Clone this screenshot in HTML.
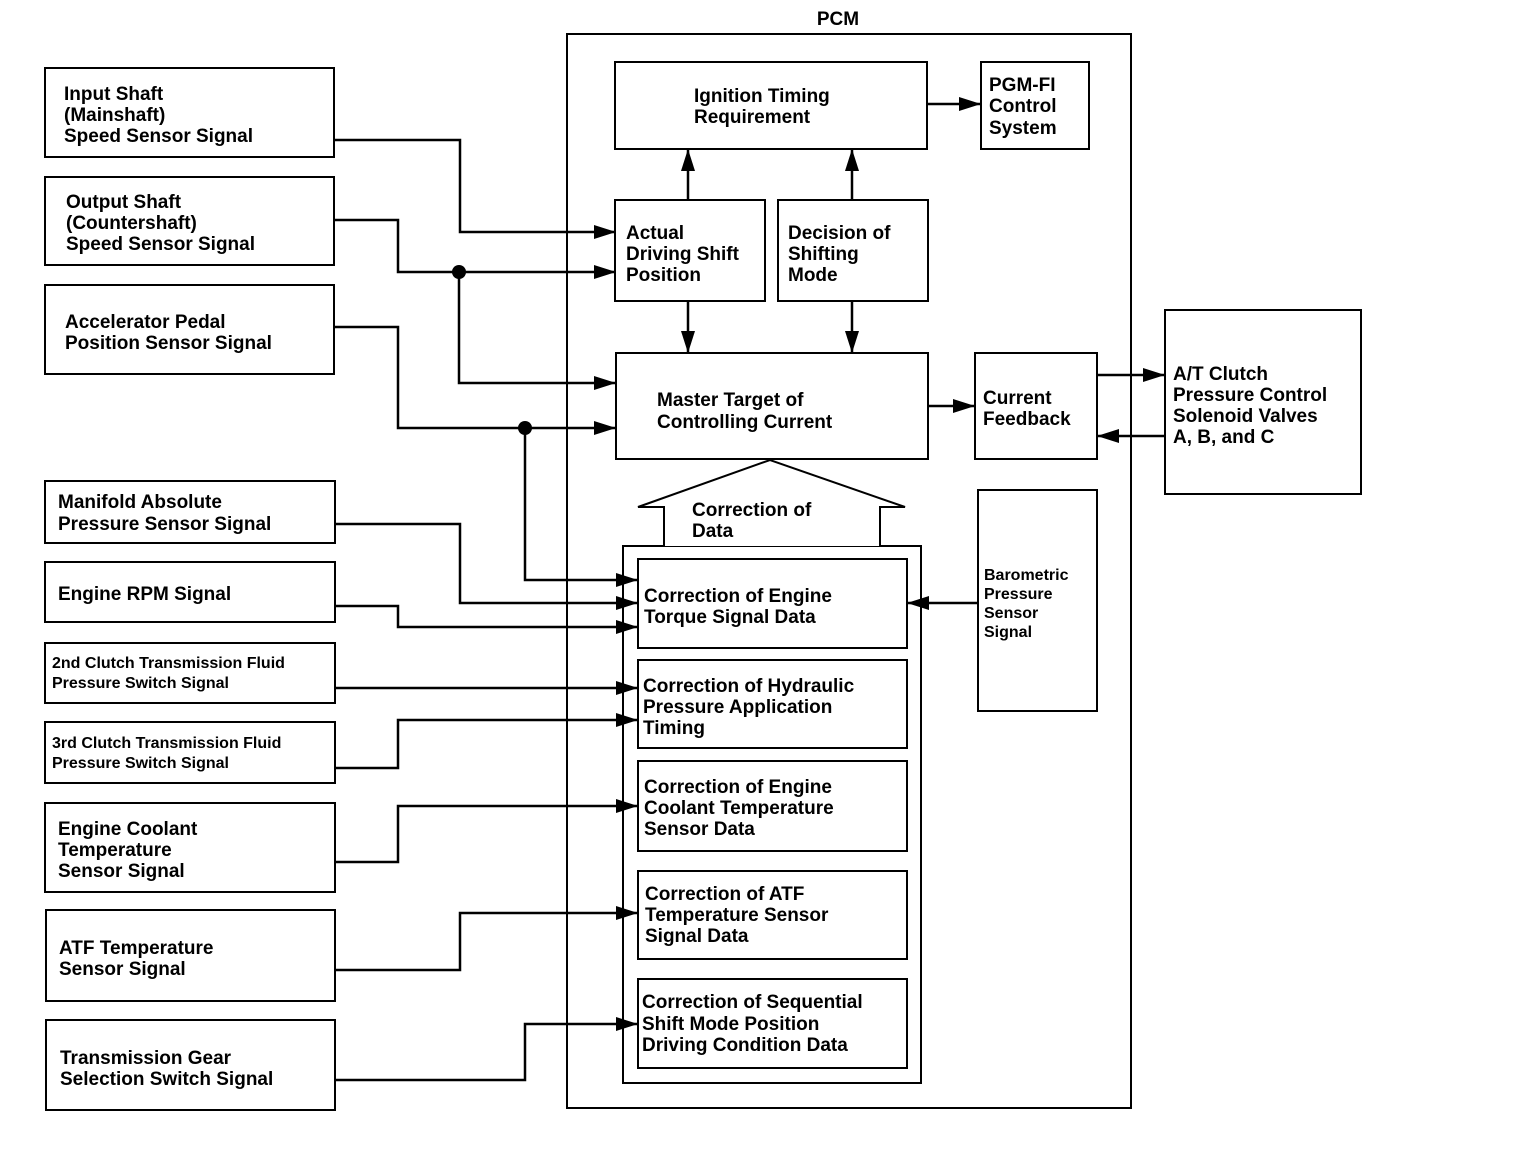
<!DOCTYPE html>
<html><head><meta charset="utf-8"><style>
html,body{margin:0;padding:0;background:#fff;}
svg{display:block;}
text{font-family:"Liberation Sans",Arial,sans-serif;font-weight:bold;font-size:19px;fill:#000;}
.s{font-size:16px;}
</style></head><body>
<svg width="1536" height="1156" viewBox="0 0 1536 1156" xmlns="http://www.w3.org/2000/svg">
<defs><marker id="a" markerWidth="10" markerHeight="10" refX="9" refY="5" orient="auto" markerUnits="userSpaceOnUse"><path d="M0,0 L10,5 L0,10 z" fill="#000"/></marker>
<marker id="b" markerWidth="22" markerHeight="14" refX="21" refY="7" orient="auto" markerUnits="userSpaceOnUse"><path d="M0,0 L22,7 L0,14 z" fill="#000"/></marker></defs>
<g fill="none" stroke="#000" stroke-width="2">
<rect x="45" y="68" width="289" height="89"/>
<rect x="45" y="177" width="289" height="88"/>
<rect x="45" y="285" width="289" height="89"/>
<rect x="45" y="481" width="290" height="62"/>
<rect x="45" y="562" width="290" height="60"/>
<rect x="45" y="643" width="290" height="60"/>
<rect x="45" y="722" width="290" height="61"/>
<rect x="45" y="803" width="290" height="89"/>
<rect x="46" y="910" width="289" height="91"/>
<rect x="46" y="1020" width="289" height="90"/>
<rect x="567" y="34" width="564" height="1074"/>
<rect x="615" y="62" width="312" height="87"/>
<rect x="981" y="62" width="108" height="87"/>
<rect x="615" y="200" width="150" height="101"/>
<rect x="778" y="200" width="150" height="101"/>
<rect x="616" y="353" width="312" height="106"/>
<rect x="975" y="353" width="122" height="106"/>
<rect x="1165" y="310" width="196" height="184"/>
<rect x="978" y="490" width="119" height="221"/>
<rect x="623" y="546" width="298" height="537"/>
<rect x="638" y="559" width="269" height="89"/>
<rect x="638" y="660" width="269" height="88"/>
<rect x="638" y="761" width="269" height="90"/>
<rect x="638" y="871" width="269" height="88"/>
<rect x="638" y="979" width="269" height="89"/>
<path d="M664,546 L664,507 L638,507 L770,460 L905,507 L880,507 L880,546" fill="#fff"/>
</g>
<g fill="none" stroke="#000" stroke-width="2.5" marker-end="url(#b)">
<path d="M334,140 H460 V232 H615"/>
<path d="M334,220 H398 V272 H615"/>
<path d="M459,272 V383 H615"/>
<path d="M334,327 H398 V428 H615"/>
<path d="M525,428 V580 H637"/>
<path d="M334,524 H460 V603 H637"/>
<path d="M334,606 H398 V627 H637"/>
<path d="M334,688 H637"/>
<path d="M334,768 H398 V720 H637"/>
<path d="M334,862 H398 V806 H637"/>
<path d="M334,970 H460 V913 H637"/>
<path d="M334,1080 H525 V1024 H637"/>
<path d="M688,200 V150"/>
<path d="M852,200 V150"/>
<path d="M688,301 V352"/>
<path d="M852,301 V352"/>
<path d="M927,104 H980"/>
<path d="M928,406 H974"/>
<path d="M1097,375 H1164"/>
<path d="M1165,436 H1098"/>
<path d="M978,603 H908"/>
</g>
<circle cx="459" cy="272" r="7" fill="#000"/>
<circle cx="525" cy="428" r="7" fill="#000"/>
<text x="838" y="25" text-anchor="middle">PCM</text>
<text x="64" y="100">Input Shaft</text><text x="64" y="121">(Mainshaft)</text><text x="64" y="142">Speed Sensor Signal</text>
<text x="66" y="208">Output Shaft</text><text x="66" y="229">(Countershaft)</text><text x="66" y="250">Speed Sensor Signal</text>
<text x="65" y="328">Accelerator Pedal</text><text x="65" y="349">Position Sensor Signal</text>
<text x="58" y="508">Manifold Absolute</text><text x="58" y="530">Pressure Sensor Signal</text>
<text x="58" y="600">Engine RPM Signal</text>
<text class="s" x="52" y="668">2nd Clutch Transmission Fluid</text><text class="s" x="52" y="688">Pressure Switch Signal</text>
<text class="s" x="52" y="748">3rd Clutch Transmission Fluid</text><text class="s" x="52" y="768">Pressure Switch Signal</text>
<text x="58" y="835">Engine Coolant</text><text x="58" y="856">Temperature</text><text x="58" y="877">Sensor Signal</text>
<text x="59" y="954">ATF Temperature</text><text x="59" y="975">Sensor Signal</text>
<text x="60" y="1064">Transmission Gear</text><text x="60" y="1085">Selection Switch Signal</text>
<text x="694" y="102">Ignition Timing</text><text x="694" y="123">Requirement</text>
<text x="989" y="91">PGM-FI</text><text x="989" y="112">Control</text><text x="989" y="134">System</text>
<text x="626" y="239">Actual</text><text x="626" y="260">Driving Shift</text><text x="626" y="281">Position</text>
<text x="788" y="239">Decision of</text><text x="788" y="260">Shifting</text><text x="788" y="281">Mode</text>
<text x="657" y="406">Master Target of</text><text x="657" y="428">Controlling Current</text>
<text x="983" y="404">Current</text><text x="983" y="425">Feedback</text>
<text x="1173" y="380">A/T Clutch</text><text x="1173" y="401">Pressure Control</text><text x="1173" y="422">Solenoid Valves</text><text x="1173" y="443">A, B, and C</text>
<text class="s" x="984" y="580">Barometric</text><text class="s" x="984" y="599">Pressure</text><text class="s" x="984" y="618">Sensor</text><text class="s" x="984" y="637">Signal</text>
<text x="692" y="516">Correction of</text><text x="692" y="537">Data</text>
<text x="644" y="602">Correction of Engine</text><text x="644" y="623">Torque Signal Data</text>
<text x="643" y="692">Correction of Hydraulic</text><text x="643" y="713">Pressure Application</text><text x="643" y="734">Timing</text>
<text x="644" y="793">Correction of Engine</text><text x="644" y="814">Coolant Temperature</text><text x="644" y="835">Sensor Data</text>
<text x="645" y="900">Correction of ATF</text><text x="645" y="921">Temperature Sensor</text><text x="645" y="942">Signal Data</text>
<text x="642" y="1008">Correction of Sequential</text><text x="642" y="1030">Shift Mode Position</text><text x="642" y="1051">Driving Condition Data</text>
</svg>
</body></html>
